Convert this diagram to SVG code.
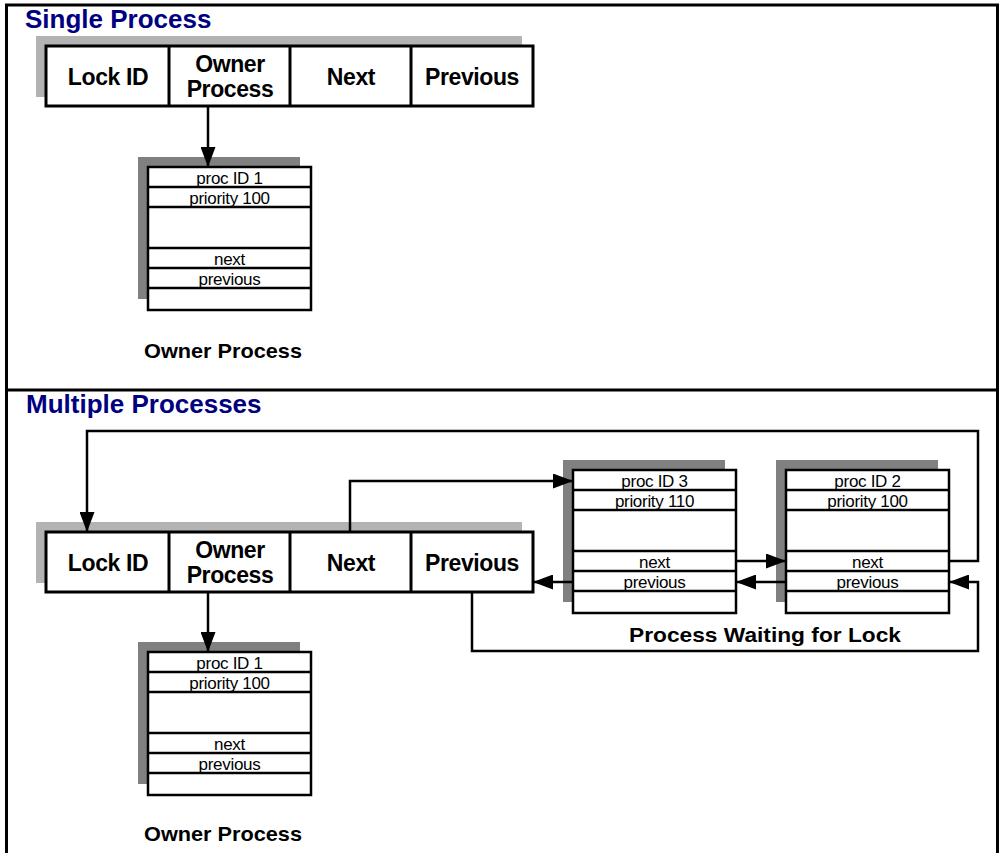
<svg xmlns="http://www.w3.org/2000/svg" width="1001" height="853" viewBox="0 0 1001 853">
  <defs>
    <marker id="arrow" markerUnits="userSpaceOnUse" markerWidth="20" markerHeight="15" refX="20" refY="7.5" orient="auto">
      <path d="M0,0 L20,7.5 L0,15 z" fill="#000"/>
    </marker>
    <style>
      .frame { fill: none; stroke: #000; stroke-width: 3; }
      .title { font-family: "Liberation Sans", Arial, sans-serif; font-weight: bold; font-size: 26px; fill: #000080; }
      .cell { fill: #fff; stroke: #000; stroke-width: 3; }
      .sep { stroke: #000; stroke-width: 3; }
      .head { font-family: "Liberation Sans", Arial, sans-serif; font-weight: bold; font-size: 23px; fill: #000; text-anchor: middle; letter-spacing: -0.4px; }
      .tshadow { fill: #b3b3b3; }
      .pshadow { fill: #808080; }
      .pbox { fill: #fff; stroke: #000; stroke-width: 2.5; }
      .row { stroke: #000; stroke-width: 2.5; }
      .field { font-family: "Liberation Sans", Arial, sans-serif; font-size: 17px; fill: #000; text-anchor: middle; letter-spacing: -0.3px; }
      .label { font-family: "Liberation Sans", Arial, sans-serif; font-weight: bold; font-size: 20.5px; fill: #000; text-anchor: middle; }
      .link { fill: none; stroke: #000; stroke-width: 2.5; marker-end: url(#arrow); }
    </style>
    <!-- process record: header rows, free area, next / previous links -->
    <g id="procRows">
      <rect class="pbox" x="0" y="0" width="163" height="143"/>
      <line class="row" x1="0" y1="20" x2="163" y2="20"/>
      <line class="row" x1="0" y1="40" x2="163" y2="40"/>
      <line class="row" x1="0" y1="81" x2="163" y2="81"/>
      <line class="row" x1="0" y1="101" x2="163" y2="101"/>
      <line class="row" x1="0" y1="121" x2="163" y2="121"/>
    </g>
    <!-- lock record: four columns -->
    <g id="lockTable">
      <rect class="tshadow" x="-10" y="-10" width="486" height="61"/>
      <rect class="cell" x="0" y="0" width="487" height="60"/>
      <line class="sep" x1="123" y1="0" x2="123" y2="60"/>
      <line class="sep" x1="244" y1="0" x2="244" y2="60"/>
      <line class="sep" x1="365" y1="0" x2="365" y2="60"/>
      <text class="head" x="62" y="39">Lock ID</text>
      <text class="head" x="184" y="26">Owner</text>
      <text class="head" x="184" y="51">Process</text>
      <text class="head" x="305" y="39">Next</text>
      <text class="head" x="426" y="39">Previous</text>
    </g>
  </defs>

  <!-- panel frame -->
  <g id="frame">
    <path class="frame" d="M6.5,860 V5 H997.5 V860"/>
    <line class="frame" x1="6.5" y1="390" x2="997.5" y2="390"/>
  </g>

  <!-- single process panel -->
  <g id="single">
    <text class="title" x="25" y="28">Single Process</text>
    <g id="lock1">
      <use href="#lockTable" x="46" y="46"/>
    </g>
    <g id="owner1">
      <rect class="pshadow" x="138" y="157" width="162" height="142"/>
      <use href="#procRows" x="148" y="167"/>
      <text class="field" x="229.5" y="184">proc ID 1</text>
      <text class="field" x="229.5" y="203.5">priority 100</text>
      <text class="field" x="229.5" y="265">next</text>
      <text class="field" x="229.5" y="285">previous</text>
      <text class="label" x="223" y="358" textLength="158" lengthAdjust="spacingAndGlyphs">Owner Process</text>
    </g>
  </g>

  <!-- multiple processes panel -->
  <g id="multiple">
    <text class="title" x="26" y="413">Multiple Processes</text>
    <g id="lock2">
      <use href="#lockTable" x="46" y="532"/>
    </g>
    <g id="owner2">
      <rect class="pshadow" x="138" y="642" width="162" height="142"/>
      <use href="#procRows" x="148" y="652"/>
      <text class="field" x="229.5" y="669">proc ID 1</text>
      <text class="field" x="229.5" y="688.5">priority 100</text>
      <text class="field" x="229.5" y="750">next</text>
      <text class="field" x="229.5" y="770">previous</text>
      <text class="label" x="223" y="841" textLength="158" lengthAdjust="spacingAndGlyphs">Owner Process</text>
    </g>
    <g id="proc3">
      <rect class="pshadow" x="563" y="460" width="162" height="142"/>
      <use href="#procRows" x="573" y="470"/>
      <text class="field" x="654.5" y="487">proc ID 3</text>
      <text class="field" x="654.5" y="506.5">priority 110</text>
      <text class="field" x="654.5" y="568">next</text>
      <text class="field" x="654.5" y="588">previous</text>
    </g>
    <g id="proc2">
      <rect class="pshadow" x="776" y="460" width="162" height="142"/>
      <use href="#procRows" x="786" y="470"/>
      <text class="field" x="867.5" y="487">proc ID 2</text>
      <text class="field" x="867.5" y="506.5">priority 100</text>
      <text class="field" x="867.5" y="568">next</text>
      <text class="field" x="867.5" y="588">previous</text>
    </g>
    <text class="label" x="765" y="642" textLength="272" lengthAdjust="spacingAndGlyphs">Process Waiting for Lock</text>
  </g>

  <!-- pointers -->
  <g id="connectors">
    <path class="link" d="M208,106 V167"/>
    <path class="link" d="M208,592 V652"/>
    <path class="link" d="M350,532 V481 H573"/>
    <path class="link" d="M949,561 H978 V431 H87 V532"/>
    <path class="link" d="M736,561 H786"/>
    <path class="link" d="M786,582 H736"/>
    <path class="link" d="M573,582 H533"/>
    <path class="link" d="M472,592 V651 H978 V582 H949"/>
  </g>
</svg>
